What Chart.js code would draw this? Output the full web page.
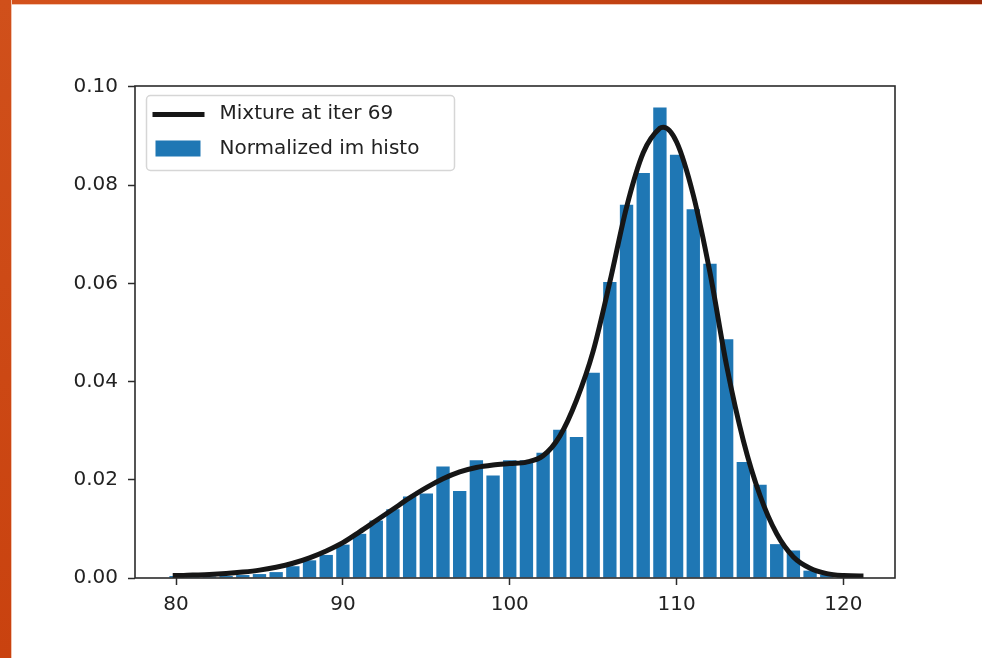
<!DOCTYPE html>
<html>
<head>
<meta charset="utf-8">
<title>Mixture fit</title>
<script src="https://cdn.jsdelivr.net/npm/chart.js@4.4.1/dist/chart.umd.min.js"></script>
<style>
    html, body { margin: 0; padding: 0; background: #fff; }
    #wrap { position: absolute; left: 0; top: 0; width: 982px; height: 658px; }
    /* orange slide frame on the top and left edges */
    #frame-top {
        position: absolute; left: 0; top: 0; width: 982px; height: 4px;
        background: linear-gradient(to right, #d4521c, #c54413 60%, #9b2b0b);
        border-bottom: 1px solid #f2c4b0;
    }
    #frame-left {
        position: absolute; left: 0; top: 0; width: 11px; height: 658px;
        background: linear-gradient(to bottom, #d0501b, #c9420f);
        border-right: 1px solid #f2c4b0;
    }
</style>
</head>
<body>
<div id="wrap"><canvas id="histo" width="982" height="658"></canvas></div>
<div id="frame-top"></div>
<div id="frame-left"></div>
<script>
// histogram bins (centres) and normalized counts
const binCenters = [80, 81, 82, 83, 84, 85, 86, 87, 88, 89, 90, 91, 92, 93, 94, 95, 96, 97, 98, 99,
    100, 101, 102, 103, 104, 105, 106, 107, 108, 109, 110, 111, 112, 113, 114, 115, 116, 117, 118, 119, 120];
const histValues = [0.0004, 0.0002, 0.0003, 0.0004, 0.0006, 0.0008, 0.0012, 0.0024, 0.0036, 0.0047,
    0.0068, 0.0090, 0.0117, 0.0140, 0.0166, 0.0172, 0.0227, 0.0177, 0.0240, 0.0209,
    0.0240, 0.0240, 0.0255, 0.0302, 0.0287, 0.0418, 0.0603, 0.0760, 0.0825, 0.0958,
    0.0862, 0.0751, 0.0640, 0.0486, 0.0236, 0.0190, 0.0069, 0.0056, 0.0015, 0.0007, 0.0003];

// mixture density curve
const mixX = [79.8, 80, 81, 82, 83, 84, 85, 86, 87, 88, 89, 90, 91, 92, 93, 94, 95, 96, 97, 98, 99,
    100, 101, 102, 103, 104, 105, 106, 107, 108, 109, 109.2, 110, 111, 112, 113, 114, 115, 116, 117,
    118, 119, 120, 121, 121.2];
const mixY = [0.0005, 0.0005, 0.0006, 0.0007, 0.0009, 0.0012, 0.0016, 0.0022, 0.0030, 0.0041, 0.0055,
    0.0072, 0.0094, 0.0117, 0.0140, 0.0163, 0.0184, 0.0202, 0.0216, 0.0225, 0.0230,
    0.0233, 0.0236, 0.0249, 0.0289, 0.0362, 0.0462, 0.0603, 0.0755, 0.0866, 0.0916, 0.0918,
    0.0888, 0.0780, 0.0622, 0.0432, 0.0280, 0.0168, 0.0090, 0.0043, 0.0020, 0.0009, 0.0005, 0.0004, 0.0004];

const xTicks = [80, 90, 100, 110, 120];
const yTicks = [0, 0.02, 0.04, 0.06, 0.08, 0.10];

const curveLabel = 'Mixture at iter 69';
const histLabel = 'Normalized im histo';

const BLUE = '#1f77b4';
const CURVE = '#161616';
const FONT = '"DejaVu Sans", sans-serif';

// full box around the plot area
const frameBox = {
    id: 'frameBox',
    afterDatasetsDraw(chart) {
        const { ctx, chartArea: a } = chart;
        ctx.save();
        ctx.strokeStyle = '#2b2b2b';
        ctx.lineWidth = 1.6;
        ctx.strokeRect(a.left, a.top, a.right - a.left, a.bottom - a.top);
        ctx.restore();
    }
};

// legend box in the upper left corner of the plot
const boxLegend = {
    id: 'boxLegend',
    afterDraw(chart) {
        const ctx = chart.ctx;
        const x = chart.chartArea.left + 11.5, y = chart.chartArea.top + 9.5;
        const w = 308, h = 75, r = 4;
        ctx.save();
        ctx.beginPath();
        ctx.roundRect(x, y, w, h, r);
        ctx.fillStyle = 'rgba(255,255,255,0.85)';
        ctx.fill();
        ctx.strokeStyle = '#d6d6d6';
        ctx.lineWidth = 1.5;
        ctx.stroke();

        ctx.strokeStyle = CURVE;
        ctx.lineWidth = 5;
        ctx.beginPath();
        ctx.moveTo(x + 6, y + 19);
        ctx.lineTo(x + 58, y + 19);
        ctx.stroke();

        ctx.fillStyle = BLUE;
        ctx.fillRect(x + 9, y + 45, 45, 16);

        ctx.fillStyle = '#222';
        ctx.font = '20px ' + FONT;
        ctx.textBaseline = 'middle';
        ctx.fillText(curveLabel, x + 73, y + 18);
        ctx.fillText(histLabel, x + 73, y + 53);
        ctx.restore();
    }
};

const tickFont = { family: FONT, size: 20 };

new Chart(document.getElementById('histo'), {
    type: 'bar',
    data: {
        datasets: [
            {
                type: 'line',
                label: curveLabel,
                data: mixX.map((x, i) => ({ x, y: mixY[i] })),
                borderColor: CURVE,
                borderWidth: 5,
                pointRadius: 0,
                cubicInterpolationMode: 'monotone',
                fill: false,
                order: 0
            },
            {
                type: 'bar',
                label: histLabel,
                data: binCenters.map((x, i) => ({ x, y: histValues[i] })),
                backgroundColor: BLUE,
                borderWidth: 0,
                barPercentage: 0.8,
                categoryPercentage: 1.0,
                order: 1
            }
        ]
    },
    options: {
        responsive: false,
        animation: false,
        layout: { padding: { left: 60, right: 87, top: 86, bottom: 40 } },
        plugins: {
            legend: { display: false },
            tooltip: { enabled: false }
        },
        scales: {
            x: {
                type: 'linear',
                offset: false,
                min: 77.54,
                max: 123.09,
                afterBuildTicks: (scale) => { scale.ticks = xTicks.map(v => ({ value: v })); },
                afterFit: (scale) => { scale.height = 40; },
                grid: { offset: false, drawOnChartArea: false, drawTicks: true, tickLength: 7, tickColor: '#2b2b2b', tickWidth: 1.5 },
                border: { display: false },
                ticks: { font: tickFont, color: '#222', padding: 8, maxRotation: 0, callback: (v) => String(v) }
            },
            y: {
                type: 'linear',
                min: 0,
                max: 0.1002,
                afterBuildTicks: (scale) => { scale.ticks = yTicks.map(v => ({ value: v })); },
                afterFit: (scale) => { scale.width = 75; },
                grid: { drawOnChartArea: false, drawTicks: true, tickLength: 7, tickColor: '#2b2b2b', tickWidth: 1.5 },
                border: { display: false },
                ticks: { font: tickFont, color: '#222', padding: 10, callback: (v) => v.toFixed(2) }
            }
        }
    },
    plugins: [frameBox, boxLegend]
});
</script>
</body>
</html>
